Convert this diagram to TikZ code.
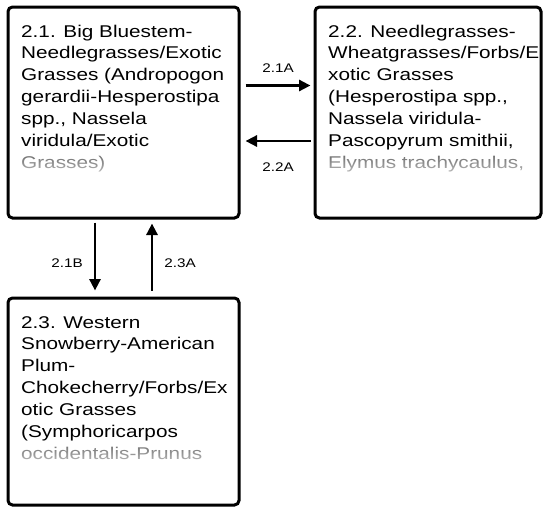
\documentclass[tikz,border=0pt]{standalone}
\usepackage{fontspec}
\setmainfont{Liberation Sans}[FakeStretch=1.22]
\usetikzlibrary{arrows.meta,fadings}
\newcommand\boxtext[2]{\vtop{\hsize=260pt\fontsize{17}{21.9}\selectfont\parindent=0pt\raggedright #1\\\textcolor{black!55}{#2}}}
\begin{document}
\begin{tikzpicture}[x=1pt,y=-1pt,
  statebox/.style={draw=black, line width=3pt, rounded corners=4.5pt, rectangle, inner sep=0pt},
  boxlabel/.style={anchor=base west, inner sep=0pt, align=left},
  arr/.style={line width=2.8pt, -{Triangle[length=11.5pt,width=11pt]}},
  lab/.style={font=\fontsize{12.5}{14}\selectfont, inner sep=0pt},
  fadecover/.style={fill=white, fill opacity=0.6, path fading=north}]
\useasboundingbox (0,0) rectangle (543,507);
\node[statebox, minimum width=231pt, minimum height=211pt] (b1) at (123.5,112.5) {};
\node[statebox, minimum width=226pt, minimum height=211pt] (b2) at (428,112.5) {};
\node[statebox, minimum width=231pt, minimum height=207pt] (b3) at (123.5,401.5) {};
\node[boxlabel] (t1) at (21,37) {\boxtext{2.1. Big Bluestem-\\Needlegrasses/Exotic\\Grasses (Andropogon\\gerardii-Hesperostipa\\spp., Nassela\\viridula/Exotic}{Grasses)}};
\node[boxlabel] (t2) at (328,37) {\boxtext{2.2. Needlegrasses-\\Wheatgrasses/Forbs/E\\xotic Grasses\\(Hesperostipa spp.,\\Nassela viridula-\\Pascopyrum smithii,}{Elymus trachycaulus,}};
\node[boxlabel] (t3) at (21,328) {\boxtext{2.3. Western\\Snowberry-American\\Plum-\\Chokecherry/Forbs/Ex\\otic Grasses\\(Symphoricarpos}{occidentalis-Prunus}};
\fill[fadecover] (17,156) rectangle (236,176);
\fill[fadecover] (324,156) rectangle (538,176);
\fill[fadecover] (17,445) rectangle (236,465);
\draw[arr] ([xshift=5pt,yshift=27pt]b1.east) -- ([xshift=-3pt,yshift=27pt]b2.west);
\draw[arr] ([xshift=-3pt,yshift=-28.5pt]b2.west) -- ([xshift=5pt,yshift=-28.5pt]b1.east);
\draw[arr] ([xshift=-28.5pt,yshift=-3pt]b1.south) -- ([xshift=-28.5pt,yshift=6pt]b3.north);
\draw[arr] ([xshift=28.5pt,yshift=6pt]b3.north) -- ([xshift=28.5pt,yshift=-4pt]b1.south);
\node[lab] (l1) at (278,68) {2.1A};
\node[lab] (l2) at (278,167) {2.2A};
\node[lab] (l3) at (67,263) {2.1B};
\node[lab] (l4) at (180,263) {2.3A};
\end{tikzpicture}
\end{document}
